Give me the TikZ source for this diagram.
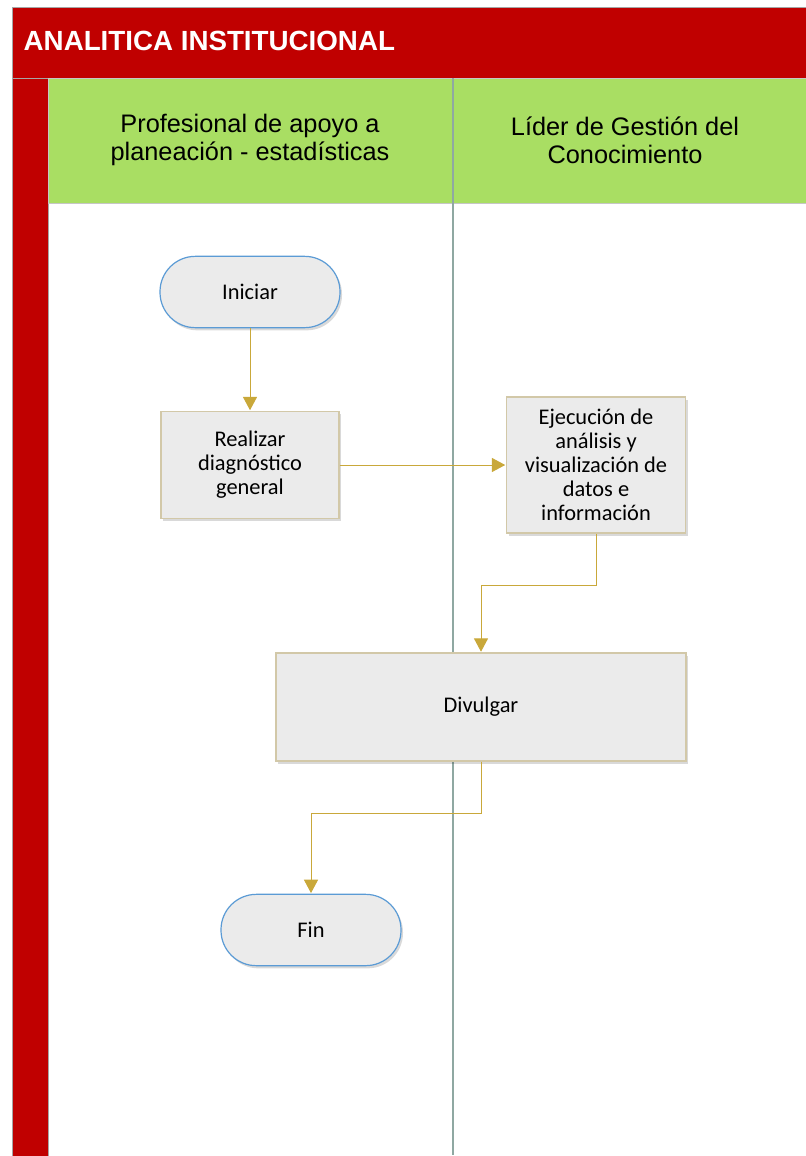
\documentclass[tikz,border=0pt]{standalone}
\usepackage{fontspec}
\setmainfont{Carlito}
\newfontfamily\arialfont{Liberation Sans}
\usetikzlibrary{positioning,shadows,arrows.meta}
\definecolor{lanered}{RGB}{192,0,0}
\definecolor{lanegreen}{RGB}{169,222,99}
\definecolor{laneline}{RGB}{143,168,162}
\definecolor{flowgold}{RGB}{201,168,58}
\definecolor{boxfill}{RGB}{235,235,235}
\definecolor{boxline}{RGB}{210,200,168}
\definecolor{termline}{RGB}{91,155,213}

\begin{document}
\begin{tikzpicture}[x=0.75pt,y=-0.75pt,shorten >=0.5pt,node distance=0.2cm,on grid,auto,
  terminal/.style={rectangle,rounded corners=26.5pt,draw=termline,line width=0.9pt,fill=boxfill,
    minimum width=135pt,minimum height=53.5pt,align=center,
    drop shadow={shadow xshift=1.5pt,shadow yshift=-2pt,fill=black,opacity=.15},
    font=\fontsize{16.8}{18}\selectfont},
  proc/.style={rectangle,draw=boxline,line width=0.9pt,fill=boxfill,align=center,
    drop shadow={shadow xshift=1.5pt,shadow yshift=-2pt,fill=black,opacity=.15},
    font=\fontsize{16.8}{18}\selectfont},
  flow/.style={draw=flowgold,line width=0.75pt,-{Triangle[width=10.5pt,length=10pt]}}]
\useasboundingbox (0,0) rectangle (806,1156);
% swimlanes
\fill[lanered,draw=gray!70] (12,7) rectangle (806,78);
\fill[lanered,draw=gray!70] (12,78) rectangle (48,1156);
\fill[lanegreen,draw=gray!45] (48,78) rectangle (806,203);
\draw[laneline,line width=1.2pt] (453,78) -- (453,1156);
\node[anchor=west,text=white,font=\arialfont\bfseries\fontsize{20.8}{24}\selectfont](q_t) at (19,41){ANALITICA INSTITUCIONAL};
\node[align=center,font=\arialfont\fontsize{19}{21}\selectfont](q_h1) at (250,140){Profesional de apoyo a\\planeación - estadísticas};
\node[align=center,font=\arialfont\fontsize{19}{21}\selectfont](q_h2) at (625,140){Líder de Gestión del\\Conocimiento};
% steps
\node[terminal](q_i) at (250,292){Iniciar};
\node[proc,minimum width=133.5pt,minimum height=80.25pt](q_d)[below=129.75pt of q_i]{Realizar\\diagnóstico\\general};
\node[proc,minimum width=134.25pt,minimum height=102pt](q_e)[right=259.5pt of q_d]{Ejecución de\\análisis y\\visualización de\\datos e\\información};
\node[proc,minimum width=307.5pt,minimum height=81pt](q_v)[below=181.5pt of q_e,xshift=-86.25pt]{Divulgar};
\node[terminal](q_f)[below=167.25pt of q_v,xshift=-127.5pt]{Fin};
\draw[flow] (q_i.south) -- (q_d.north);
\draw[flow] (q_d.east) -- (q_e.west);
\draw[flow] (q_e.south) -- ++(0,52) -| (q_v.north);
\draw[flow] (q_v.south) -- ++(0,52) -| (q_f.north);

\end{tikzpicture}
\end{document}
